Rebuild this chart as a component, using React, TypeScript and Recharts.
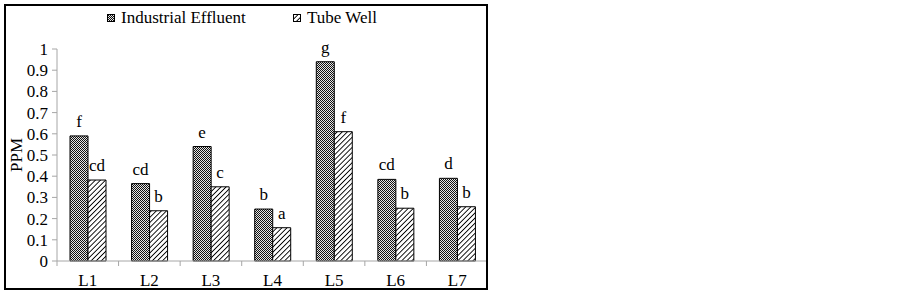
import React from 'react'
import { BarChart, Bar, XAxis, YAxis, LabelList } from 'recharts'

const locations = ['L1', 'L2', 'L3', 'L4', 'L5', 'L6', 'L7']
const seriesNames = ['Industrial Effluent', 'Tube Well']
const effluent = [0.59, 0.365, 0.54, 0.245, 0.94, 0.385, 0.39]
const tubeWell = [0.382, 0.237, 0.35, 0.157, 0.61, 0.249, 0.256]
const effluentLetters = ['f', 'cd', 'e', 'b', 'g', 'cd', 'd']
const tubeWellLetters = ['cd', 'b', 'c', 'a', 'f', 'b', 'b']
const yTicks = [0, 0.1, 0.2, 0.3, 0.4, 0.5, 0.6, 0.7, 0.8, 0.9, 1]

const data = locations.map((loc, i) => ({
  loc,
  ie: effluent[i],
  tw: tubeWell[i],
  ieL: effluentLetters[i],
  twL: tubeWellLetters[i],
}))

const FONT = '"Liberation Serif", "Times New Roman", serif'
const AXIS_GRAY = '#a6a6a6'

// x tick: category label plus a short mark at the left boundary of each band
function CategoryTick(props: any) {
  const { x, y, payload } = props
  const base = y - 13
  const left = x - (payload.offset || 0)
  return (
    <g>
      <line x1={left} y1={base} x2={left} y2={base + 5} stroke={AXIS_GRAY} />
      <text x={x} y={base + 25} textAnchor="middle" fontFamily={FONT} fontSize={17} fill="#000">
        {payload.value}
      </text>
    </g>
  )
}

function PpmLabel(props: any) {
  const vb = props.viewBox
  const cx = vb.x + 16
  const cy = vb.y + vb.height / 2
  return (
    <text
      x={cx}
      y={cy}
      transform={`rotate(-90, ${cx}, ${cy})`}
      textAnchor="middle"
      dominantBaseline="central"
      fontFamily={FONT}
      fontSize={17}
      fill="#000"
    >
      PPM
    </text>
  )
}

function Patterns() {
  return (
    <defs>
      <pattern id="checker" width="2" height="2" patternUnits="userSpaceOnUse">
        <rect width="2" height="2" fill="#e6e6e6" />
        <rect width="1" height="1" fill="#111" />
        <rect x="1" y="1" width="1" height="1" fill="#111" />
      </pattern>
      <pattern id="hatch" width="3.6" height="3.6" patternUnits="userSpaceOnUse" patternTransform="rotate(45)">
        <rect width="3.6" height="3.6" fill="#fff" />
        <line x1="0" y1="0" x2="0" y2="3.6" stroke="#000" strokeWidth="1.8" />
      </pattern>
    </defs>
  )
}

function Swatch({ fill }: { fill: string }) {
  return (
    <svg width={8} height={8} style={{ display: 'block' }}>
      <rect x={0.5} y={0.5} width={7} height={7} fill={fill} stroke="#000" />
    </svg>
  )
}

export default function App() {
  const legendItems = [
    { name: seriesNames[0], fill: 'url(#checker)', left: 107 },
    { name: seriesNames[1], fill: 'url(#hatch)', left: 293 },
  ]
  return (
    <div style={{ position: 'absolute', left: 0, top: 0, width: 902, height: 293, background: '#fff' }}>
      <div style={{ position: 'absolute', left: 0, top: 0 }}>
        <BarChart
          width={488}
          height={293}
          data={data}
          margin={{ top: 49, right: 0, left: 0, bottom: 4 }}
          barGap={0}
          barSize={18}
        >
          <Patterns />
          <YAxis
            width={57}
            domain={[0, 1]}
            ticks={yTicks}
            interval={0}
            tickSize={5}
            tickMargin={4}
            stroke={AXIS_GRAY}
            tick={{ fill: '#000', fontFamily: FONT, fontSize: 17 }}
            label={<PpmLabel />}
          />
          <XAxis
            dataKey="loc"
            height={28}
            tickSize={5}
            tickMargin={8}
            tickLine={false}
            stroke={AXIS_GRAY}
            interval={0}
            tick={<CategoryTick />}
          />
          <Bar dataKey="ie" name={seriesNames[0]} fill="url(#checker)" stroke="#000" strokeWidth={1} isAnimationActive={false}>
            <LabelList dataKey="ieL" position="top" offset={9} fill="#000" fontFamily={FONT} fontSize={17} />
          </Bar>
          <Bar dataKey="tw" name={seriesNames[1]} fill="url(#hatch)" stroke="#000" strokeWidth={1} isAnimationActive={false}>
            <LabelList dataKey="twL" position="top" offset={9} fill="#000" fontFamily={FONT} fontSize={17} />
          </Bar>
        </BarChart>
      </div>
      {legendItems.map((it) => (
        <div
          key={it.name}
          style={{
            position: 'absolute',
            left: it.left,
            top: 8,
            display: 'flex',
            alignItems: 'center',
            gap: 6,
            fontFamily: FONT,
            fontSize: 17,
            lineHeight: '20px',
            color: '#000',
            whiteSpace: 'nowrap',
          }}
        >
          <Swatch fill={it.fill} />
          <span>{it.name}</span>
        </div>
      ))}
      <div
        style={{
          position: 'absolute',
          left: 4,
          top: 4,
          width: 484,
          height: 286,
          border: '2px solid #000',
          boxSizing: 'border-box',
          pointerEvents: 'none',
        }}
      />
    </div>
  )
}
